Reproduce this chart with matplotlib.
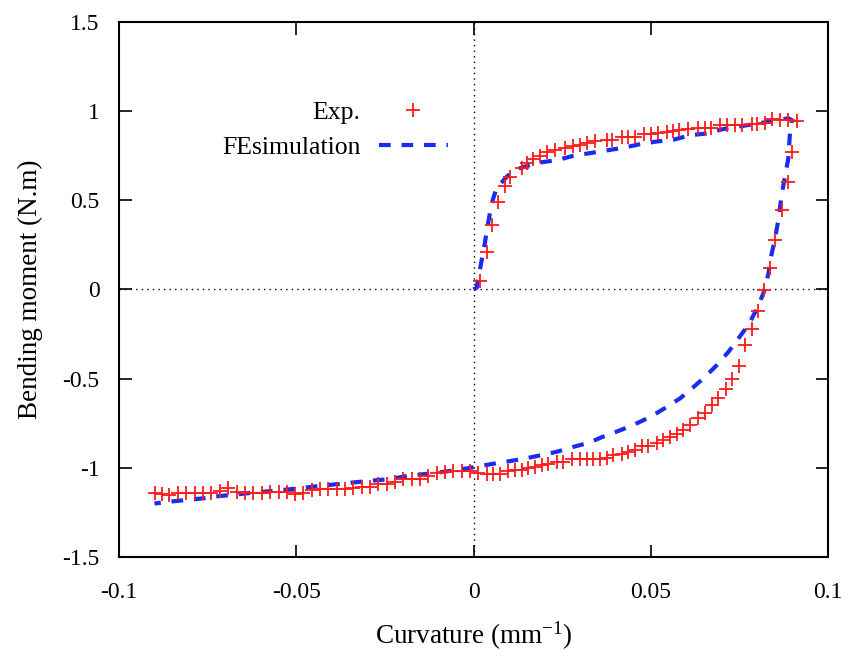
import numpy as np
import matplotlib
matplotlib.use("Agg")
import matplotlib.pyplot as plt

# Experimental moment-curvature points (red +)
exp_x = [0.0018, 0.0037, 0.0051, 0.0070, 0.0089, 0.0103, 0.0136, 0.015, 0.0168, 0.0188,
         0.0207, 0.023, 0.0258, 0.028, 0.030, 0.032, 0.0343, 0.0376, 0.039, 0.0418,
         0.0437, 0.0456, 0.048, 0.050, 0.052, 0.0545, 0.0564, 0.058, 0.0606, 0.0634,
         0.0653, 0.067, 0.0695, 0.0714, 0.0738, 0.0757, 0.0785, 0.080, 0.0822, 0.0841,
         0.0865, 0.0888, 0.0912,
         0.0898, 0.0888, 0.087, 0.085, 0.0836, 0.082, 0.0803, 0.0785, 0.0766, 0.075,
         0.0728, 0.0711, 0.069, 0.0672, 0.0653, 0.0634, 0.0611, 0.0592, 0.0573, 0.0554,
         0.0535, 0.0517, 0.0493, 0.0474, 0.0456, 0.0437, 0.0418, 0.0394, 0.0376, 0.0357,
         0.0338, 0.0319, 0.030, 0.0277, 0.0253, 0.0235, 0.0211, 0.0192, 0.0173, 0.0155,
         0.0136, 0.0117, 0.0098, 0.0075, 0.0056, 0.0037, 0.0014, -0.001, -0.0033, -0.0057,
         -0.008, -0.0104, -0.0128, -0.0151, -0.0174, -0.0198, -0.0221, -0.0245, -0.0269,
         -0.0292, -0.0315, -0.0339, -0.0362, -0.0386, -0.041, -0.0433, -0.0456, -0.048,
         -0.0504, -0.0527, -0.055, -0.0574, -0.0598, -0.0621, -0.0645, -0.0668, -0.0692,
         -0.0716, -0.074, -0.0763, -0.0787, -0.081, -0.0833, -0.0858, -0.088, -0.0898]
exp_y = [0.05, 0.21, 0.36, 0.49, 0.58, 0.63, 0.68, 0.71, 0.73, 0.75,
         0.77, 0.78, 0.795, 0.805, 0.81, 0.82, 0.83, 0.84, 0.84, 0.855,
         0.855, 0.855, 0.87, 0.87, 0.875, 0.885, 0.89, 0.895, 0.9, 0.905,
         0.905, 0.905, 0.92, 0.92, 0.92, 0.925, 0.93, 0.93, 0.935, 0.955,
         0.95, 0.95, 0.945,
         0.77, 0.605, 0.445, 0.28, 0.12, -0.005, -0.12, -0.22, -0.31, -0.43,
         -0.50, -0.56, -0.61, -0.65, -0.69, -0.72, -0.76, -0.79, -0.81, -0.825,
         -0.845, -0.86, -0.88, -0.88, -0.90, -0.91, -0.92, -0.93, -0.945, -0.95,
         -0.95, -0.95, -0.95, -0.95, -0.965, -0.97, -0.98, -0.985, -0.995, -1.0,
         -1.01, -1.01, -1.02, -1.035, -1.035, -1.035, -1.03, -1.02, -1.015, -1.015,
         -1.025, -1.03, -1.045, -1.06, -1.06, -1.065, -1.08, -1.09, -1.09,
         -1.105, -1.105, -1.115, -1.12, -1.12, -1.12, -1.12, -1.125, -1.14,
         -1.145, -1.135, -1.135, -1.135, -1.14, -1.14, -1.14, -1.135, -1.115,
         -1.13, -1.14, -1.14, -1.14, -1.14, -1.14, -1.155, -1.145, -1.14]

# FE simulation curve (blue dashed)
fe_x = [0.0, 0.0009, 0.0018, 0.0032, 0.0042, 0.0051, 0.0065, 0.0098, 0.0131, 0.0178,
        0.0235, 0.0282, 0.0329, 0.0376, 0.0423, 0.047, 0.0517, 0.0564, 0.0611, 0.0658,
        0.0705, 0.0752, 0.0799, 0.0846, 0.0888, 0.0898, 0.0893, 0.0888, 0.0879, 0.087,
        0.086, 0.085, 0.0841, 0.0832, 0.0818, 0.0799, 0.0775, 0.0747, 0.0719, 0.0686,
        0.0653, 0.0616, 0.0583, 0.054, 0.0503, 0.0456, 0.0413, 0.0366, 0.0324, 0.0277,
        0.0235, 0.0188, 0.014, 0.0094, 0.0047, 0.0, -0.0047, -0.0094, -0.0142, -0.0188,
        -0.0236, -0.0287, -0.0334, -0.0381, -0.0428, -0.0475, -0.0522, -0.0569, -0.0621,
        -0.0668, -0.0715, -0.0762, -0.081, -0.0858, -0.09]
fe_y = [0.0, 0.01, 0.11, 0.26, 0.38, 0.48, 0.57, 0.64, 0.68, 0.71,
        0.725, 0.75, 0.765, 0.78, 0.795, 0.815, 0.83, 0.84, 0.865, 0.875,
        0.9, 0.915, 0.93, 0.945, 0.96, 0.95, 0.885, 0.735, 0.635, 0.54,
        0.39, 0.28, 0.2, 0.09, -0.02, -0.11, -0.2, -0.275, -0.35, -0.425,
        -0.49, -0.555, -0.61, -0.665, -0.71, -0.755, -0.79, -0.825, -0.86, -0.885,
        -0.91, -0.93, -0.95, -0.965, -0.98, -0.997, -1.012, -1.025, -1.036, -1.046,
        -1.063, -1.072, -1.081, -1.091, -1.1, -1.111, -1.121, -1.13, -1.139,
        -1.149, -1.158, -1.171, -1.18, -1.19, -1.2]

x_ticks = [-0.1, -0.05, 0, 0.05, 0.1]
x_tick_labels = ["-0.1", "-0.05", "0", "0.05", "0.1"]
y_ticks = [-1.5, -1, -0.5, 0, 0.5, 1, 1.5]
y_tick_labels = ["-1.5", "-1", "-0.5", "0", "0.5", "1", "1.5"]

plt.rcParams["font.family"] = ["Liberation Serif", "DejaVu Serif"]
plt.rcParams["mathtext.fontset"] = "custom"
plt.rcParams["mathtext.rm"] = "Liberation Serif"
plt.rcParams["mathtext.it"] = "Liberation Serif:italic"

fig = plt.figure(figsize=(8.53, 6.51), dpi=100)
ax = fig.add_axes([0.1395, 0.1444, 0.8312, 0.8218])

# zero axes
ax.axhline(0, color="black", linestyle=(0, (1, 3)), linewidth=1.0, zorder=1)
ax.axvline(0, color="black", linestyle=(0, (1, 3)), linewidth=1.0, zorder=1)

ax.plot(fe_x, fe_y, color="#1a2cf0", linestyle=(0, (2.8, 2.6)), linewidth=3,
        label="FEsimulation", zorder=2)
ax.plot(exp_x, exp_y, linestyle="none", marker="+", color="#ff1a1a", markersize=10,
        markeredgewidth=1.3, label="Exp.", zorder=3)

ax.set_xlim(-0.1, 0.1)
ax.set_ylim(-1.5, 1.5)
ax.set_xticks(x_ticks)
ax.set_xticklabels(x_tick_labels)
ax.set_yticks(y_ticks)
ax.set_yticklabels(y_tick_labels)
ax.tick_params(direction="in", length=9, width=1.2, top=True, right=True,
               labelsize=17)
ax.tick_params(axis="x", pad=18)
ax.tick_params(axis="y", pad=14)
for s in ax.spines.values():
    s.set_linewidth(1.5)

ax.set_xlabel("Curvature (mm$^{\\mathregular{-1}}$)", fontsize=19.5, labelpad=12)
ax.set_ylabel("Bending moment (N.m)", fontsize=19.5, labelpad=14)

handles, labels = ax.get_legend_handles_labels()
ax.legend(handles[::-1], labels[::-1], markerfirst=False, frameon=False,
          loc="upper right", bbox_to_anchor=(0.464, 0.852), fontsize=18.5,
          handlelength=2.7, handletextpad=0.7, labelspacing=0.45,
          borderpad=0, borderaxespad=0)

fig.savefig("out.png", dpi=100)
